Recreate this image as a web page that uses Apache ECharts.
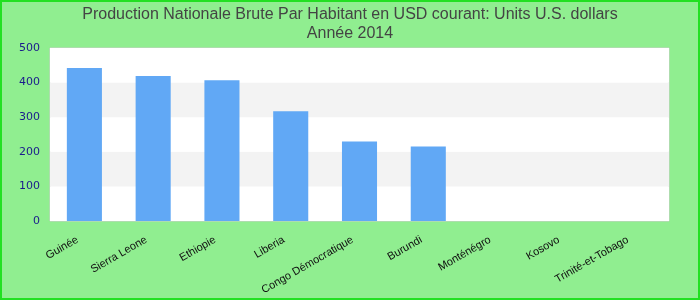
<!DOCTYPE html>
<html><head><meta charset="utf-8">
<script src="https://cdn.jsdelivr.net/npm/echarts@6/dist/echarts.min.js"></script>
<style>html,body{margin:0;padding:0;}#c{width:700px;height:300px;box-sizing:border-box;border:2px solid #22e022;background:#90ee90;}</style>
</head><body><div id="c"></div>
<script>
const categories = ["Guinée","Sierra Leone","Ethiopie","Liberia","Congo Démocratique","Burundi","Monténégro","Kosovo","Trinité-et-Tobago"];
const values = [442, 419, 407, 317, 230, 215, null, null, null];
const titleLines = ["Production Nationale Brute Par Habitant en USD courant: Units U.S. dollars", "Année 2014"];

const chart = echarts.init(document.getElementById('c'), null, {renderer:'canvas'});
chart.setOption({
  backgroundColor: '#90ee90',
  animation: false,
  title: {
    text: titleLines.join('\n'),
    left: 'center', top: -2,
    textStyle: {color:'#444', fontSize:16, fontWeight:'normal', fontFamily:'Liberation Sans', lineHeight:19}
  },
  grid: {left:48, right:29, top:46, bottom:77, show:true, backgroundColor:'#fff', borderColor:'#ccc', borderWidth:1},
  xAxis: {
    type:'category', data: categories,
    axisLine:{show:false}, axisTick:{show:false},
    axisLabel:{interval:0, rotate:30, color:'#111', fontSize:11, fontFamily:'Liberation Sans', margin:14, padding:[0,8,0,0]}
  },
  yAxis: {
    type:'value', min:0, max:500, interval:100,
    axisLine:{show:false}, axisTick:{show:false},
    splitLine:{show:false},
    splitArea:{show:true, areaStyle:{color:['#fff','#f3f3f3']}},
    axisLabel:{color:'#1a1a8c', fontSize:11, fontFamily:'DejaVu Sans', margin:10}
  },
  series: [{type:'bar', data: values, barWidth:'51%', itemStyle:{color:'#61a8f5'}}]
});
</script></body></html>
